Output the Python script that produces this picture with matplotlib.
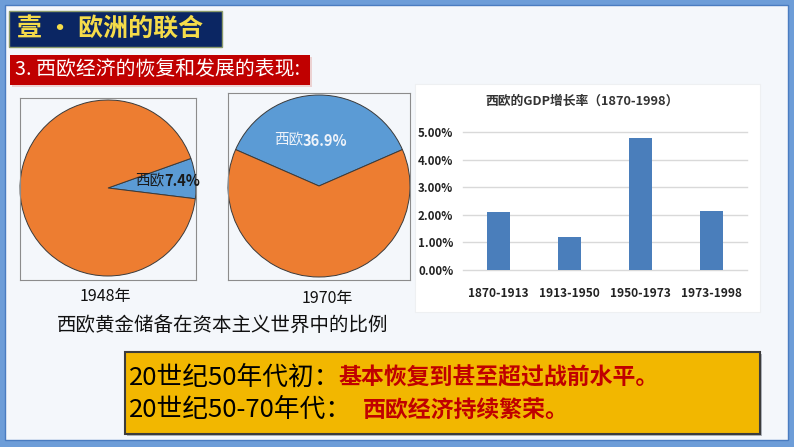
import matplotlib.pyplot as plt
from matplotlib.patches import Rectangle
import numpy as np

plt.rcParams['font.family'] = ['Noto Sans CJK SC', 'DejaVu Sans']

W, H = 794, 447

# -----------------------------
# Data
# -----------------------------
pie_years = ["1948年", "1970年"]
pie_shares = [7.4, 36.9]          # 西欧 share of gold reserves, %
pie_mid_angles = [6.3, 90.0]      # where the 西欧 wedge points
pie_label = "西欧"

gdp_periods = ["1870-1913", "1913-1950", "1950-1973", "1973-1998"]
gdp_growth = [2.1, 1.2, 4.8, 2.12]
gdp_ticks = [0, 1, 2, 3, 4, 5]

title_text = "壹 · 欧洲的联合"
subtitle_text = "3. 西欧经济的恢复和发展的表现:"
pie_caption = "西欧黄金储备在资本主义世界中的比例"
bar_title = "西欧的GDP增长率（1870-1998）"
note_heads = ["20世纪50年代初：", "20世纪50-70年代："]
note_texts = ["基本恢复到甚至超过战前水平。", "西欧经济持续繁荣。"]

ORANGE = "#ed7d31"
BLUE = "#5b9bd5"
BAR_BLUE = "#4a7ebb"
RED = "#c00000"


def px_axes(fig, x0, y0, x1, y1):
    # axes placed by pixel box (y from top)
    return fig.add_axes([x0 / W, 1 - y1 / H, (x1 - x0) / W, (y1 - y0) / H])


fig = plt.figure(figsize=(W / 100, H / 100), dpi=100)
fig.patch.set_facecolor("#6d9dd8")

bg = fig.add_axes([0, 0, 1, 1])
bg.set_xlim(0, W)
bg.set_ylim(H, 0)
bg.axis('off')

# slide panel
bg.add_patch(Rectangle((5, 5), 783, 435, facecolor='#f4f7fb', edgecolor='#4a7cc0', lw=1))

# title boxes
bg.add_patch(Rectangle((9, 11), 213, 36, facecolor='#0b2663', edgecolor='#8a9a6a', lw=1))
bg.text(17, 29, title_text, color='#f5dc4a', fontsize=18, fontweight='bold', ha='left', va='center')
bg.add_patch(Rectangle((12, 57), 300, 30, facecolor='#ecd2d2', edgecolor='none'))
bg.add_patch(Rectangle((10, 55), 300, 30, facecolor=RED, edgecolor='none'))
bg.text(15, 70, subtitle_text, color='white', fontsize=14.3, ha='left', va='center')

# -----------------------------
# Pie charts
# -----------------------------
pie_boxes = [(20, 98, 196, 280), (228, 93, 410, 280)]
pie_geom = [(108, 188, 88), (319, 186, 91)]
label_dist = [0.68, 0.5]
label_shift = [-3, -16]
label_colors = ['#1a1a1a', '#eef3fa']
year_pos = [(105, 297), (327, 298)]

for i in range(len(pie_shares)):
    x0, y0, x1, y1 = pie_boxes[i]
    cx, cy, r = pie_geom[i]
    ax = px_axes(fig, x0, y0, x1, y1)
    share = pie_shares[i]
    wedges, _ = ax.pie([share, 100 - share], colors=[BLUE, ORANGE],
                       startangle=pie_mid_angles[i] - share * 1.8,
                       frame=True,
                       wedgeprops=dict(edgecolor='#3a3a3a', linewidth=0.7))
    ax.set_aspect('auto')
    ax.set_xlim((x0 - cx) / r, (x1 - cx) / r)
    ax.set_ylim((cy - y1) / r, (cy - y0) / r)
    ax.set_xticks([])
    ax.set_yticks([])
    ax.set_facecolor('#f4f7fb')
    for s in ax.spines.values():
        s.set_color('#8c8c8c')
        s.set_linewidth(0.8)

    w = wedges[0]
    mid = np.deg2rad((w.theta1 + w.theta2) / 2)
    pos = (label_dist[i] * np.cos(mid), label_dist[i] * np.sin(mid))
    ax.annotate(pie_label, pos, xytext=(label_shift[i], 0), textcoords='offset pixels',
                ha='right', va='center', fontsize=10.5, color=label_colors[i],
                annotation_clip=False)
    ax.annotate(f"{share:.1f}%", pos, xytext=(label_shift[i], 0), textcoords='offset pixels',
                ha='left', va='center', fontsize=10.5, fontweight='bold',
                color=label_colors[i], annotation_clip=False)

    bg.text(year_pos[i][0], year_pos[i][1], pie_years[i], fontsize=11.5,
            ha='center', va='center', color='#111111')

bg.text(223, 325, pie_caption, fontsize=14, ha='center', va='center', color='#111111')

# -----------------------------
# GDP bar chart
# -----------------------------
bg.add_patch(Rectangle((415, 84), 345, 228, facecolor='white', edgecolor='#eef0f2', lw=0.8))
bg.text(582, 101, bar_title, fontsize=9.2, fontweight='bold', ha='center', va='center', color='#333333')

bx = px_axes(fig, 463, 132, 747, 270)
x = np.arange(len(gdp_periods))
bx.bar(x, gdp_growth, width=0.31, color=BAR_BLUE, zorder=3)
bx.set_xlim(-0.5, len(gdp_periods) - 0.5)
bx.set_ylim(0, 5)
bx.set_yticks(gdp_ticks)
bx.set_yticklabels([f"{t:.2f}%" for t in gdp_ticks])
bx.set_xticks(x)
bx.set_xticklabels(gdp_periods)
bx.grid(axis='y', color='#d9d9d9', linewidth=1, zorder=0)
for gl in bx.get_ygridlines():
    gl.set_clip_on(False)
bx.tick_params(axis='both', length=0, colors='#222222')
bx.tick_params(axis='y', pad=7, labelsize=8.3)
bx.tick_params(axis='x', pad=12, labelsize=8.6)
for lab in bx.get_xticklabels() + bx.get_yticklabels():
    lab.set_fontweight('bold')
for s in bx.spines.values():
    s.set_visible(False)
bx.patch.set_alpha(0)

# -----------------------------
# Summary box
# -----------------------------
bg.add_patch(Rectangle((127, 354), 635, 82, facecolor='#b0b4bc', edgecolor='none'))
bg.add_patch(Rectangle((125, 352), 635, 82, facecolor='#f2b700', edgecolor='#3c3c3c', lw=1.5))
line_y = [378, 410]
red_x = [338, 363]
for k in range(len(note_heads)):
    bg.text(129, line_y[k], note_heads[k], fontsize=18.5, ha='left', va='center', color='black')
    bg.text(red_x[k], line_y[k], note_texts[k], fontsize=16.5, fontweight='bold',
            ha='left', va='center', color=RED)

fig.savefig("out.png", dpi=100, facecolor=fig.get_facecolor())
